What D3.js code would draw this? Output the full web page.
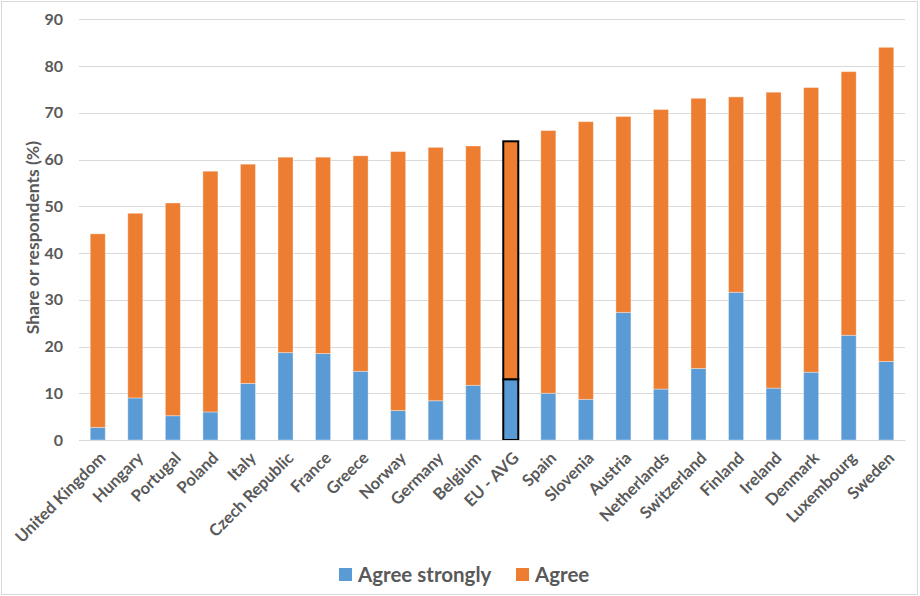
<!DOCTYPE html>
<html>
<head>
<meta charset="utf-8">
<script src="https://cdn.jsdelivr.net/npm/d3@7"></script>
<style>
  html, body { margin: 0; padding: 0; background: #fff; }
  svg { display: block; }
  text { font-family: Lato, "Open Sans", sans-serif; font-weight: bold; fill: #595959; }
</style>
</head>
<body>
<svg id="chart" width="920" height="596"></svg>
<script>
const countries = ["United Kingdom","Hungary","Portugal","Poland","Italy","Czech Republic","France","Greece","Norway","Germany","Belgium","EU - AVG","Spain","Slovenia","Austria","Netherlands","Switzerland","Finland","Ireland","Denmark","Luxembourg","Sweden"];
const agreeStrongly = [2.7, 9.0, 5.2, 6.0, 12.1, 18.7, 18.5, 14.7, 6.3, 8.4, 11.7, 13.0, 10.0, 8.7, 27.3, 10.9, 15.3, 31.6, 11.1, 14.5, 22.4, 16.8];
const agree = [41.4, 39.5, 45.5, 51.5, 46.9, 41.8, 42.0, 46.1, 55.4, 54.2, 51.2, 50.9, 56.2, 59.4, 41.9, 59.8, 57.8, 41.8, 63.3, 60.9, 56.4, 67.2];
const yTicks = [0, 10, 20, 30, 40, 50, 60, 70, 80, 90];
const seriesNames = ["Agree strongly", "Agree"];
const highlight = "EU - AVG";

(function () {
const colors = ["#5B9BD5", "#ED7D31"];
const svg = d3.select("#chart");

// chart border
svg.append("rect").attr("x", 1.5).attr("y", 1.5).attr("width", 916).attr("height", 593)
  .attr("fill", "none").attr("stroke", "#d9d9d9").attr("stroke-width", 1);

const pLeft = 79, pRight = 905, pTop = 19.3, pBottom = 440;
const x = d3.scaleBand().domain(countries).range([pLeft, pRight]).paddingInner(0.6).paddingOuter(0.3);
const y = d3.scaleLinear().domain([0, 90]).range([pBottom, pTop]);

// gridlines
svg.append("g").selectAll("line").data(yTicks).join("line")
  .attr("x1", pLeft).attr("x2", pRight)
  .attr("y1", d => Math.round(y(d)) + 0.5).attr("y2", d => Math.round(y(d)) + 0.5)
  .attr("stroke", "#d9d9d9").attr("stroke-width", 1);

// y axis labels
const yAxis = d3.axisLeft(y).tickValues(yTicks).tickSize(0).tickPadding(0);
const gy = svg.append("g").attr("transform", `translate(${pLeft - 16},0)`).call(yAxis);
gy.select(".domain").remove();
gy.selectAll("text").attr("font-size", 16).attr("font-family", "Lato, sans-serif").attr("font-weight", "bold").attr("fill", "#595959");

// y axis title
svg.append("text").attr("transform", `translate(39,${(pTop + pBottom) / 2 + 8}) rotate(-90)`)
  .attr("text-anchor", "middle").attr("font-size", 17.5).text("Share or respondents (%)");

// stacked data
const data = countries.map((c, i) => ({ country: c, "Agree strongly": agreeStrongly[i], "Agree": agree[i] }));
const stack = d3.stack().keys(seriesNames)(data);

svg.append("g").selectAll("g").data(stack).join("g")
  .attr("fill", (d, i) => colors[i])
  .selectAll("rect").data(d => d).join("rect")
  .attr("x", d => x(d.data.country))
  .attr("width", x.bandwidth())
  .attr("y", d => y(d[1]))
  .attr("height", d => y(d[0]) - y(d[1]))
  .attr("stroke", d => d.data.country === highlight ? "#000" : "rgba(255,255,255,0.35)")
  .attr("stroke-width", d => d.data.country === highlight ? 2 : 1);

// x axis labels
const xAxis = d3.axisBottom(x).tickSize(0).tickPadding(0);
const gx = svg.append("g").attr("transform", `translate(0,${pBottom})`).call(xAxis);
gx.select(".domain").attr("stroke", "#d9d9d9");
gx.selectAll("text")
  .attr("font-size", 16.5).attr("font-family", "Lato, sans-serif").attr("font-weight", "bold").attr("fill", "#595959")
  .attr("text-anchor", "end")
  .attr("dy", "0.35em")
  .attr("transform", "translate(5,15) rotate(-45)");

// legend
const legend = svg.append("g");
const legendItems = [{ name: seriesNames[0], x: 339 }, { name: seriesNames[1], x: 516 }];
legendItems.forEach((it, i) => {
  legend.append("rect").attr("x", it.x).attr("y", 568).attr("width", 13).attr("height", 13).attr("fill", colors[i]);
  legend.append("text").attr("x", it.x + 19).attr("y", 582).attr("font-size", 20.5).text(it.name);
});
})();
</script>
</body>
</html>
